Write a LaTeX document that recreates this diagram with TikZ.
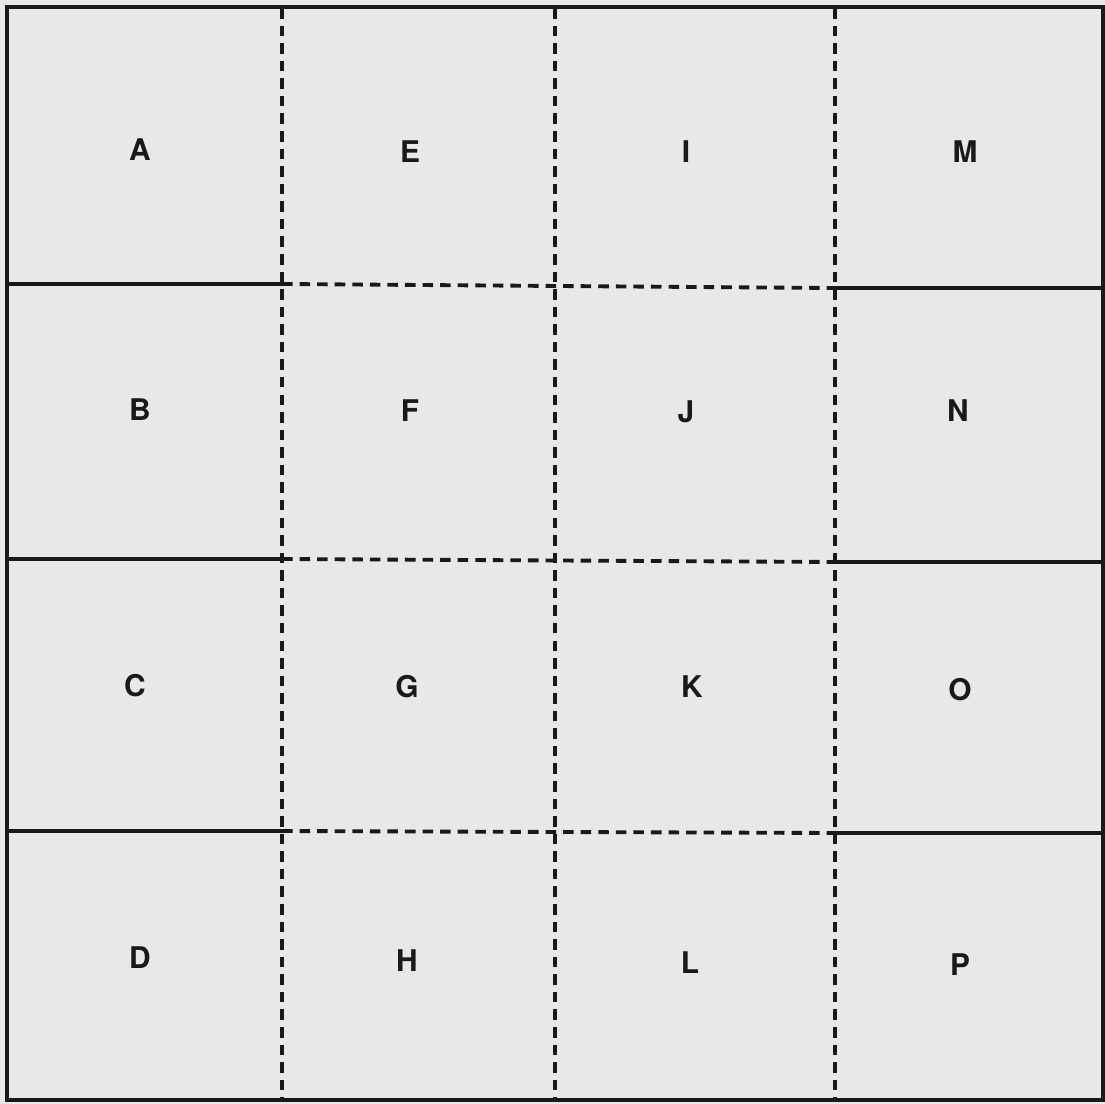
\documentclass[tikz,border=0pt]{standalone}
\usepackage{fontspec}
\setmainfont{TeX Gyre Heros}
\begin{document}
\begin{tikzpicture}[x=0.02cm,y=-0.02cm,
  solidline/.style={line width=2pt,black!90},
  dashline/.style={line width=2.2pt,black!90,dash pattern=on 6pt off 4pt},
  lbl/.style={font=\fontsize{17}{17}\selectfont\bfseries,text=black!90,inner sep=0pt}]
\useasboundingbox (0,0) rectangle (1105,1104);
\fill[gray!18] (0,0) rectangle (1105,1104);
% vertical dashed lines
\foreach \x in {282,555,835} \draw[dashline] (\x,8) -- (\x,1100);
% horizontal lines
\foreach \y/\yy in {284/288,559/562,831/833}{
  \draw[solidline] (7,\y) -- (282,\y);
  \draw[dashline] (282,\y) -- (835,\yy);
  \draw[solidline] (835,\yy) -- (1103,\yy);
}
% border
\draw[solidline] (7,7) rectangle (1103,1100);
% labels
\node[lbl] (A) at (140,150) {A};
\node[lbl] (E) at (410,152) {E};
\node[lbl] (I) at (686,152) {I};
\node[lbl] (M) at (965,152) {M};
\node[lbl] (B) at (140,410) {B};
\node[lbl] (F) at (410,411) {F};
\node[lbl] (J) at (686,412) {J};
\node[lbl] (N) at (958,411) {N};
\node[lbl] (C) at (135,686) {C};
\node[lbl] (G) at (407,687) {G};
\node[lbl] (K) at (692,687) {K};
\node[lbl] (O) at (960,690) {O};
\node[lbl] (D) at (140,958) {D};
\node[lbl] (H) at (407,961) {H};
\node[lbl] (L) at (690,963) {L};
\node[lbl] (P) at (960,965) {P};
\end{tikzpicture}
\end{document}
